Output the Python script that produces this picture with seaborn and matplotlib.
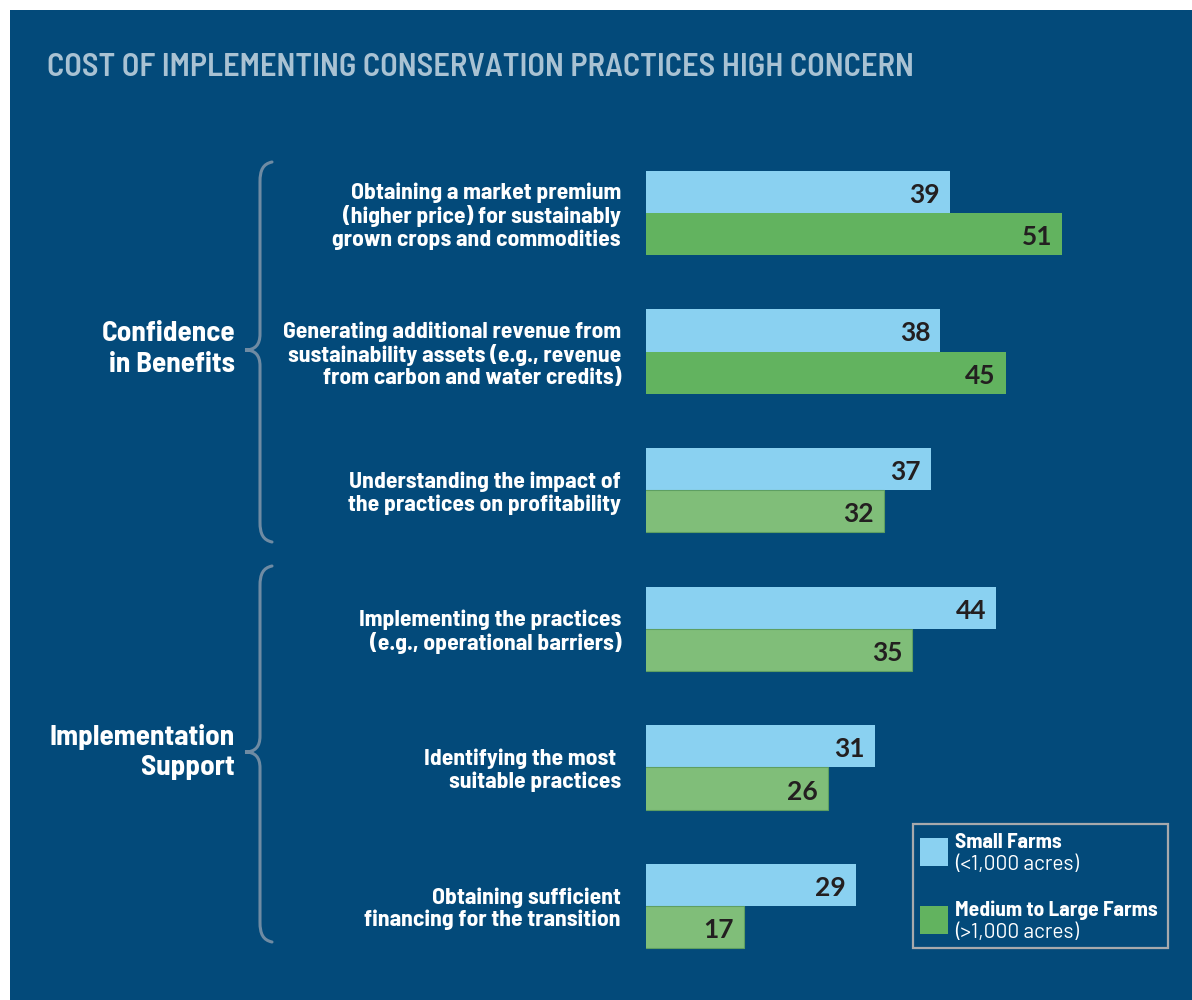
import matplotlib
matplotlib.use("Agg")
import matplotlib.pyplot as plt
import seaborn as sns
import pandas as pd
from matplotlib.patches import Rectangle, PathPatch
from matplotlib.path import Path

# data
practices = [
    "Obtaining a market premium\n(higher price) for sustainably\ngrown crops and commodities",
    "Generating additional revenue from\nsustainability assets (e.g., revenue\nfrom carbon and water credits)",
    "Understanding the impact of\nthe practices on profitability",
    "Implementing the practices\n(e.g., operational barriers)",
    "Identifying the most \nsuitable practices",
    "Obtaining sufficient\nfinancing for the transition",
]
small_farms = [39, 38, 37, 44, 31, 29]
large_farms = [51, 45, 32, 35, 26, 17]
series_names = ["Small Farms", "Medium to Large Farms"]
series_notes = ["(<1,000 acres)", "(>1,000 acres)"]
group_names = ["Confidence\nin Benefits", "Implementation\nSupport"]
title = "COST OF IMPLEMENTING CONSERVATION PRACTICES HIGH CONCERN"

# colours
BG = "#034a7a"
BLUE = "#8ad1f1"
GREEN = "#62b35f"
GREEN_LIGHT = "#80be79"
large_colors = [GREEN, GREEN, GREEN_LIGHT, GREEN_LIGHT, GREEN_LIGHT, GREEN_LIGHT]
BRACE = "#6f8ba3"
NARROW = ["Barlow Semi Condensed", "Roboto", "DejaVu Sans"]
WIDE = ["Barlow", "Lato", "DejaVu Sans"]

df = pd.DataFrame({
    "practice": practices * 2,
    "pct": small_farms + large_farms,
    "farm": [series_names[0]] * 6 + [series_names[1]] * 6,
})

sns.set_style("white")
plt.rcParams["font.family"] = NARROW

W, H = 1192, 1000
fig = plt.figure(figsize=(W / 100, H / 100), dpi=100, facecolor="white")
fig.add_artist(Rectangle((10 / W, 0), 1 - 10 / W, 1 - 10 / H, transform=fig.transFigure,
                         facecolor=BG, edgecolor="none", zorder=-5))

ax = fig.add_axes([646 / W, 1 - 975.3 / H, (W - 646) / W, (975.3 - 143.7) / H])
ax.set_facecolor("none")
sns.barplot(data=df, y="practice", x="pct", hue="farm", orient="h",
            palette=[BLUE, GREEN], width=0.61, saturation=1, legend=False,
            linewidth=0, ax=ax)

for patch, c in zip(ax.containers[1], large_colors):
    patch.set_facecolor(c)
    if c == GREEN_LIGHT:
        patch.set_edgecolor("#5e9f62")
        patch.set_linewidth(0.8)

ax.set_xlim(6.55, 64.9)
ax.set_ylim(5.5, -0.5)
sns.despine(ax=ax, left=True, bottom=True)
ax.set_xticks([])
ax.set_xlabel("")
ax.set_ylabel("")
ax.tick_params(axis="y", length=0, pad=18)
for lbl in ax.get_yticklabels():
    lbl.set_color("white")
    lbl.set_fontweight("bold")
    lbl.set_fontsize(17)
    lbl.set_linespacing(1.12)
    lbl.set_family(NARROW)

for cont in ax.containers:
    for patch in cont:
        v = patch.get_width()
        yc = patch.get_y() + patch.get_height() / 2
        ax.annotate(f"{v:.0f}", xy=(v, yc), xytext=(-10, -3), textcoords="offset pixels",
                    ha="right", va="center", fontsize=19, fontweight="bold",
                    color="#231f20", family=["Lato", "DejaVu Sans"])

fig.text(47 / W, 1 - 67 / H, title, color="#a9c2d3", fontsize=23.3, fontweight="semibold",
         va="center", ha="left", family=NARROW)

# decorations: braces, group labels, legend (pixel coordinates)
deco = fig.add_axes([0, 0, 1, 1], zorder=3)
deco.set_xlim(0, W)
deco.set_ylim(H, 0)
deco.axis("off")


def brace(top, tip, bottom, x=260, xend=272, xtip=245):
    verts = [
        (xend, top), (x + 3, top + 2), (x, top + 8), (x, top + 20),
        (x, tip - 16),
        (x, tip - 5), (x - 5, tip), (xtip, tip),
        (x - 5, tip), (x, tip + 5), (x, tip + 16),
        (x, bottom - 20),
        (x, bottom - 8), (x + 3, bottom - 2), (xend, bottom),
    ]
    codes = [Path.MOVETO, Path.CURVE4, Path.CURVE4, Path.CURVE4, Path.LINETO,
             Path.CURVE4, Path.CURVE4, Path.CURVE4,
             Path.CURVE4, Path.CURVE4, Path.CURVE4,
             Path.LINETO, Path.CURVE4, Path.CURVE4, Path.CURVE4]
    deco.add_patch(PathPatch(Path(verts, codes), facecolor="none", edgecolor=BRACE,
                             lw=2.2, capstyle="round"))


brace(162, 350, 542)
brace(566, 752, 942)

deco.text(235, 349, group_names[0], ha="right", va="center", color="white",
          fontsize=21, fontweight="bold", linespacing=1.3, multialignment="right")
deco.text(235, 752, group_names[1], ha="right", va="center", color="white",
          fontsize=21, fontweight="bold", linespacing=1.3, multialignment="right")

deco.add_patch(Rectangle((913, 824), 255, 124, facecolor="none", edgecolor="#a7a9ac", lw=1.6))
for i, (name, note, col) in enumerate(zip(series_names, series_notes, [BLUE, GREEN])):
    y0 = 838 + i * 68
    deco.add_patch(Rectangle((920, y0), 28, 28, facecolor=col, edgecolor="none"))
    deco.text(955, y0 + 4, name, ha="left", va="center", color="white",
              fontsize=15.5, fontweight="bold")
    deco.text(955, y0 + 26, note, ha="left", va="center", color="white",
              fontsize=15, family=WIDE)

fig.savefig("out.png", dpi=100, facecolor=fig.get_facecolor())
